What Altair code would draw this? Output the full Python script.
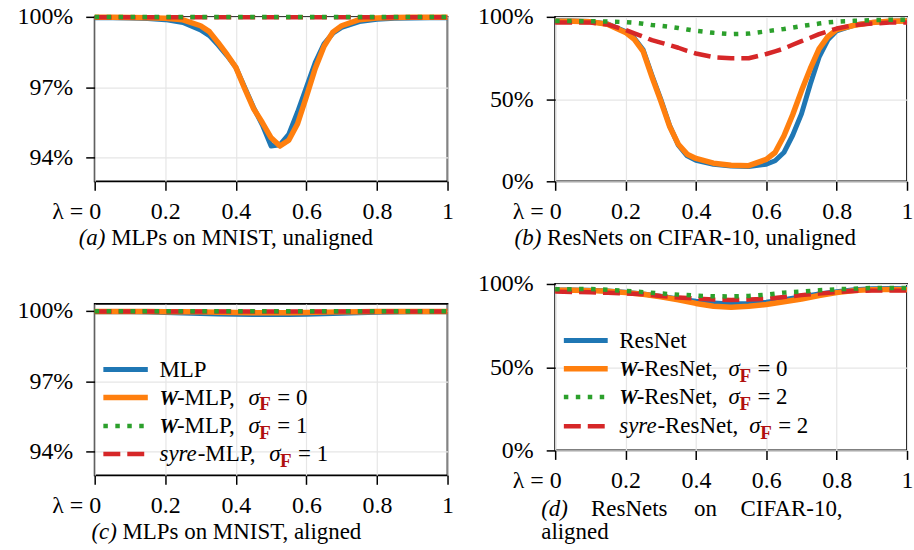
import altair as alt
import pandas as pd

FONT = "Liberation Serif"
FRED = "#b01010"

# ---------------- data ----------------
lam_a = [0, .05, .1, .15, .2, .25, .3, .325, .35, .375, .4, .425, .45, .475, .5,
         .525, .55, .575, .6, .625, .65, .675, .7, .75, .8, .85, .9, .95, 1]
a_mlp = [99.96, 99.96, 99.95, 99.93, 99.88, 99.76, 99.44, 99.2, 98.8, 98.35, 97.85, 97.0, 96.15, 95.4, 94.5,
         94.55, 95.0, 95.95, 97.0, 98.05, 98.85, 99.3, 99.55, 99.8, 99.9, 99.94, 99.95, 99.96, 99.96]
a_wmlp0 = [99.98, 99.98, 99.97, 99.96, 99.94, 99.87, 99.62, 99.37, 98.9, 98.4, 97.85, 96.95, 96.1, 95.5, 94.85,
           94.5, 94.75, 95.45, 96.6, 97.8, 98.75, 99.35, 99.62, 99.88, 99.95, 99.97, 99.98, 99.98, 99.98]
a_wmlp1 = [99.99, 99.99, 99.99, 99.99, 99.99, 99.99, 99.99, 99.99, 99.99, 99.99, 99.99, 99.99, 99.99, 99.99, 99.99,
           99.99, 99.99, 99.99, 99.99, 99.99, 99.99, 99.99, 99.99, 99.99, 99.99, 99.99, 99.99, 99.99, 99.99]
a_syre1 = [99.98, 99.98, 99.98, 99.98, 99.98, 99.98, 99.98, 99.98, 99.98, 99.98, 99.98, 99.98, 99.98, 99.98, 99.98,
           99.98, 99.98, 99.98, 99.98, 99.98, 99.98, 99.98, 99.98, 99.98, 99.98, 99.98, 99.98, 99.98, 99.98]

lam_b = [0, .05, .1, .15, .2, .225, .25, .275, .3, .325, .35, .375, .4, .45, .5,
         .55, .6, .625, .65, .675, .7, .725, .75, .775, .8, .85, .9, .95, 1]
b_res = [97.6, 97.5, 97.1, 95.6, 91.0, 87.0, 80.0, 64.5, 50.0, 34.0, 22.0, 15.5, 12.8, 10.3, 9.3,
         9.0, 10.4, 12.5, 17.5, 28.0, 41.0, 59.0, 75.5, 86.0, 91.5, 95.0, 96.6, 97.4, 97.6]
b_wres0 = [97.4, 97.3, 97.0, 95.4, 90.5, 86.3, 79.0, 63.5, 49.0, 33.5, 22.5, 16.5, 13.9, 11.0, 9.8,
           9.5, 13.3, 17.5, 27.5, 40.5, 55.0, 68.5, 80.5, 88.0, 92.2, 94.9, 96.5, 97.3, 97.5]
b_wres2 = [97.4, 97.4, 97.3, 97.2, 96.8, 96.4, 95.8, 95.0, 94.6, 94.0, 93.2, 92.3, 91.5, 90.3, 89.5,
           89.8, 91.2, 91.9, 92.6, 93.5, 94.4, 95.1, 95.9, 96.6, 97.1, 97.6, 98.0, 98.2, 98.2]
b_syre2 = [96.6, 96.6, 96.5, 95.3, 92.0, 90.0, 88.0, 85.8, 84.3, 82.8, 81.2, 79.3, 77.7, 75.5, 74.8,
           74.8, 77.4, 79.0, 80.7, 83.0, 85.2, 87.3, 89.5, 91.2, 92.9, 95.0, 95.9, 96.5, 96.6]

lam_c = [0, .05, .1, .15, .2, .25, .3, .35, .4, .45, .5, .55, .6, .65, .7, .75, .8, .85, .9, .95, 1]
c_mlp = [99.97, 99.97, 99.96, 99.95, 99.93, 99.91, 99.89, 99.87, 99.86, 99.85, 99.85,
         99.85, 99.86, 99.88, 99.9, 99.92, 99.94, 99.95, 99.96, 99.97, 99.97]
c_wmlp0 = [99.98, 99.98, 99.98, 99.98, 99.97, 99.97, 99.96, 99.94, 99.93, 99.92, 99.92,
           99.92, 99.93, 99.95, 99.96, 99.97, 99.98, 99.98, 99.98, 99.98, 99.98]
c_wmlp1 = [99.99, 99.99, 99.99, 99.99, 99.99, 99.99, 99.99, 99.99, 99.99, 99.99, 99.99,
           99.99, 99.99, 99.99, 99.99, 99.99, 99.99, 99.99, 99.99, 99.99, 99.99]
c_syre1 = [99.98, 99.98, 99.98, 99.98, 99.98, 99.98, 99.98, 99.98, 99.98, 99.98, 99.98,
           99.98, 99.98, 99.98, 99.98, 99.98, 99.98, 99.98, 99.98, 99.98, 99.98]

lam_d = [0, .05, .1, .15, .2, .25, .3, .35, .4, .45, .5, .55, .6, .65, .7, .75, .8, .85, .9, .95, 1]
d_res = [96.4, 96.4, 96.2, 95.8, 95.0, 94.0, 92.6, 91.0, 89.6, 88.5, 88.0,
         88.2, 89.0, 90.6, 92.3, 94.0, 95.4, 96.5, 97.2, 97.3, 97.1]
d_wres0 = [96.2, 96.2, 96.0, 95.6, 94.8, 93.8, 92.3, 90.5, 88.3, 86.6, 86.0,
           86.6, 87.7, 89.3, 91.0, 93.1, 94.8, 96.0, 96.6, 96.7, 96.6]
d_wres2 = [96.8, 96.9, 97.0, 96.5, 95.8, 95.1, 94.3, 93.6, 93.0, 92.6, 92.5,
           92.8, 93.6, 94.8, 95.4, 96.2, 96.8, 97.2, 97.6, 97.6, 97.6]
d_syre2 = [95.4, 95.2, 95.0, 94.7, 94.3, 93.8, 92.7, 91.9, 91.2, 90.6, 90.4,
           90.6, 91.0, 92.2, 93.3, 94.2, 95.2, 95.8, 96.0, 96.0, 96.0]

# ---------------- styles ----------------
STYLES = [
    dict(color="#1f77b4", strokeWidth=5),
    dict(color="#ff7f0e", strokeWidth=5.5),
    dict(color="#2ca02c", strokeWidth=4.5, strokeDash=[4.5, 7.5]),
    dict(color="#d62728", strokeWidth=4.5, strokeDash=[17, 7]),
]
DRAW_ORDER = [0, 1, 3, 2]

TW = {'-': 333, 'M': 889, 'L': 611, 'P': 556, ',': 250, 'R': 667, 'e': 444,
      's': 389, 'N': 722, 't': 278}
TWI = {'s': 389, 'y': 444, 'r': 389, 'e': 444}


def tw(s, table, size=23):
    return sum(table[c] for c in s) * size / 1000.0


one = pd.DataFrame({"k": [0]})


def T(s, x, y, size=23, style="normal", weight="normal", color="black"):
    return alt.Chart(one).mark_text(
        text=s, align="left", baseline="alphabetic", font=FONT, fontSize=size,
        fontStyle=style, fontWeight=weight, color=color
    ).encode(x=alt.value(x), y=alt.value(y))


def R(x1, x2, y, st):
    return alt.Chart(one).mark_rule(**st).encode(
        x=alt.value(x1), x2=alt.value(x2), y=alt.value(y))


def legend(xl0, xl1, x0, centers, model, vals):
    out = []
    for i, c in enumerate(centers):
        out.append(R(xl0, xl1, c, STYLES[i]))
        base = c + 7.3
        if i == 0:
            out.append(T(model, x0, base))
            continue
        if i in (1, 2):
            out.append(T("W", x0, base, size=21, style="italic", weight="bold"))
            x = x0 + 17.5
        else:
            out.append(T("syre", x0, base, style="italic"))
            x = x0 + tw("syre", TWI)
        s = "-" + model + ","
        out.append(T(s, x, base))
        x += tw(s, TW)
        sx = x + 11
        out.append(T("σ", sx, base, style="italic"))
        out.append(T("F", sx + 11, base + 5.7, size=19, weight="bold", color=FRED))
        out.append(T("= " + vals[i - 1], sx + 29, base))
    return out


def xaxis():
    return alt.Axis(
        values=[0, 0.2, 0.4, 0.6, 0.8, 1],
        labelExpr="datum.value == 0 ? 'λ = 0' : (datum.value == 1 ? '1' : format(datum.value, '.1f'))",
        labelAlign={"condition": {"test": "datum.value == 0", "value": "right"}, "value": "center"},
        labelOffset={"condition": {"test": "datum.value == 0", "value": 6}, "value": 0},
        labelFlush=False, labelOverlap=False, title=None, domain=False,
        tickColor="black", tickSize=9, tickWidth=1.5,
        grid=True, gridColor="#e6e6e6", gridWidth=1.2,
        labelFont=FONT, labelFontSize=24, labelColor="black",
        labelBaseline="alphabetic", labelPadding=28,
    )


def yaxis(vals):
    return alt.Axis(
        values=vals, labelExpr="datum.value + '%'", title=None, domain=False,
        tickColor="black", tickSize=9, tickWidth=1.5,
        grid=True, gridColor="#e6e6e6", gridWidth=1.2,
        labelFont=FONT, labelFontSize=24, labelColor="black", labelPadding=13,
        labelFlush=False, labelOverlap=False,
    )


def panel(lam, series, ydom, yvals, w, h, extras):
    rows = []
    for si, ys in enumerate(series):
        for xv, yv in zip(lam, ys):
            rows.append({"lam": xv, "acc": yv, "s": si})
    df = pd.DataFrame(rows)
    base = alt.Chart(df)
    layers = []
    for si in DRAW_ORDER:
        layers.append(
            base.transform_filter(alt.datum.s == si)
            .mark_line(strokeJoin="round", **STYLES[si])
            .encode(
                x=alt.X("lam:Q", scale=alt.Scale(domain=[0, 1], nice=False, zero=False), axis=xaxis()),
                y=alt.Y("acc:Q", scale=alt.Scale(domain=ydom, nice=False, zero=False), axis=yaxis(yvals)),
            )
        )
    return alt.layer(*layers, *extras).properties(width=w, height=h)


# captions
cap_a = [T("(a)", -16, 165 + 64, style="italic"), T("MLPs on MNIST, unaligned", 16.5, 165 + 64)]
cap_b = [T("(b)", -40.7, 165 + 64, style="italic"), T("ResNets on CIFAR-10, unaligned", -8.1, 165 + 64)]
cap_c = [T("(c)", -3.3, 172 + 64, style="italic"), T("MLPs on MNIST, aligned", 27.9, 172 + 64)]
cap_d = [T("(d)", -14, 167 + 65.4, style="italic"), T("ResNets", 36, 167 + 65.4),
         T("on", 139.3, 167 + 65.4), T("CIFAR-10,", 186, 167 + 65.4),
         T("aligned", -14, 167 + 88.7)]

leg_c = legend(8.7, 53.3, 65, [65.8, 93.8, 122.5, 150.5], "MLP", ["0", "1", "1"])
leg_d = legend(8.7, 52.7, 64.3, [56.7, 85.0, 113.4, 142.7], "ResNet", ["0", "2", "2"])

pa = panel(lam_a, [a_mlp, a_wmlp0, a_wmlp1, a_syre1], [93, 100], [94, 97, 100], 354, 165, cap_a)
pb = panel(lam_b, [b_res, b_wres0, b_wres2, b_syre2], [0, 100], [0, 50, 100], 353, 165, cap_b)
pc = panel(lam_c, [c_mlp, c_wmlp0, c_wmlp1, c_syre1], [93, 100.3], [94, 97, 100], 354, 172, leg_c + cap_c)
pd_ = panel(lam_d, [d_res, d_wres0, d_wres2, d_syre2], [0, 100], [0, 50, 100], 353, 167, leg_d + cap_d)

chart = alt.hconcat(
    alt.vconcat(pa, pc, spacing=123, bounds="flush"),
    alt.vconcat(pb, pd_, spacing=103, bounds="flush"),
    spacing=22,
).properties(
    padding={"left": 16, "top": 3, "right": 0, "bottom": 0}
).configure_view(stroke="black", strokeWidth=1.8)

chart.save("out.html", embed_options={"renderer": "svg", "actions": False})
